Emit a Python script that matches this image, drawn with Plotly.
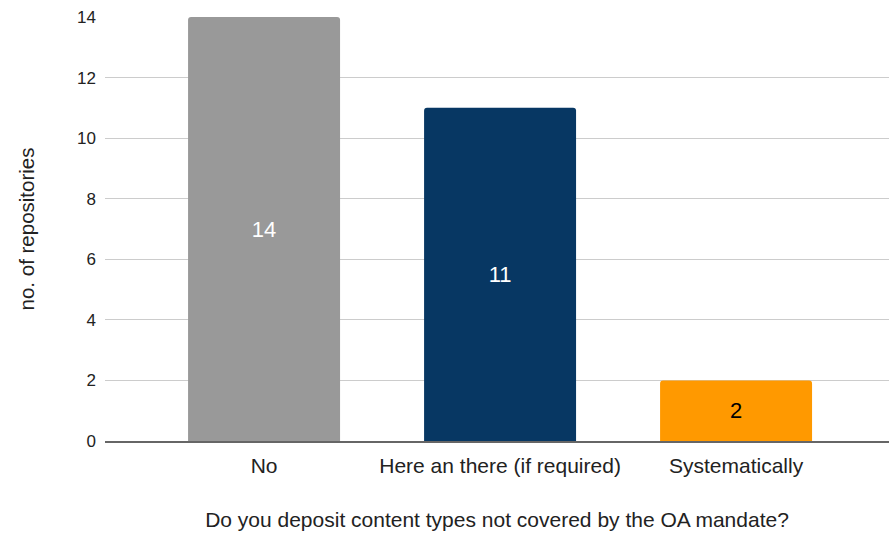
import plotly.graph_objects as go

categories = ["No", "Here an there (if required)", "Systematically"]
values = [14, 11, 2]
bar_colors = ["#999999", "#073763", "#ff9900"]
text_colors = ["#ffffff", "#ffffff", "#000000"]
y_ticks = [0, 2, 4, 6, 8, 10, 12, 14]

FONT = "Arial, Liberation Sans, sans-serif"

fig = go.Figure(go.Bar(
    x=categories,
    y=values,
    marker=dict(color=bar_colors, line=dict(width=0), cornerradius=3),
    width=0.644,
    text=[str(v) for v in values],
    textposition="inside",
    insidetextanchor="middle",
    textangle=0,
    textfont=dict(size=22, color=text_colors, family=FONT),
    hoverinfo="skip",
))

fig.update_layout(
    width=889, height=534,
    margin=dict(l=105, r=0, t=17, b=93),
    paper_bgcolor="white", plot_bgcolor="white",
    font=dict(family=FONT, color="#222222"),
    showlegend=False,
    xaxis=dict(
        range=[-0.674, 2.648],
        showgrid=False,
        showline=True, linecolor="#666666", linewidth=1.5,
        ticks="", tickfont=dict(size=21, color="#222222"),
        ticklabelstandoff=5,
        title=dict(text="Do you deposit content types not covered by the OA mandate?",
                   font=dict(size=21, color="#222222"), standoff=36),
        fixedrange=True,
    ),
    yaxis=dict(
        range=[0, 14],
        tickvals=y_ticks,
        showgrid=True, gridcolor="#cccccc", gridwidth=1,
        zeroline=False,
        ticks="", tickfont=dict(size=17, color="#222222"),
        ticklabelstandoff=8,
        title=dict(text="no. of repositories", font=dict(size=20.5, color="#222222"), standoff=36),
        fixedrange=True,
    ),
)

fig.write_html("out.html")
